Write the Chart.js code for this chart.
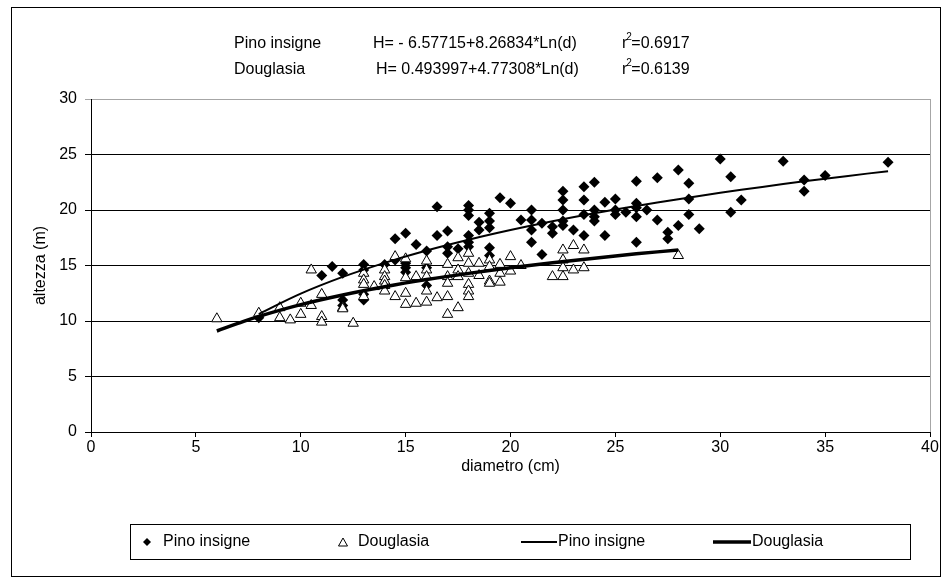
<!DOCTYPE html>
<html>
<head>
<meta charset="utf-8">
<script src="https://cdn.jsdelivr.net/npm/chart.js@4.4.0/dist/chart.umd.min.js"></script>
<style>
  html, body { margin: 0; padding: 0; background: #fff; }
  #wrap { width: 950px; height: 583px; }
</style>
</head>
<body>
<div id="wrap"><canvas id="grafico" width="950" height="583"></canvas></div>
<script>
// Pino insigne: diametro (cm) / altezza (m)
var pinoX = [8, 11, 11.5, 12, 12, 12, 13, 13, 13, 13, 14, 14.5, 14.5, 15, 15, 15, 15, 15.5, 16, 16, 16,
  16.5, 16.5, 17, 17, 17, 17.5, 18, 18, 18, 18, 18, 18, 18.5, 18.5, 19, 19, 19, 19, 19, 19.5, 20, 20.5,
  21, 21, 21, 21, 21.5, 21.5, 22, 22, 22.5, 22.5, 22.5, 22.5, 22.5, 23, 23.5, 23.5, 23.5, 23.5,
  24, 24, 24, 24, 24.5, 24.5, 25, 25, 25, 25.5, 26, 26, 26, 26, 26, 26.5, 27, 27, 27.5, 27.5,
  28, 28, 28.5, 28.5, 28.5, 29, 30, 30.5, 30.5, 31, 33, 34, 34, 35, 38];
var pinoY = [10.3, 14.1, 14.9, 14.3, 11.9, 11.4, 15.1, 14.6, 12.4, 11.9, 15.1, 17.4, 15.5, 17.9, 15.2, 14.8, 14.4, 16.9, 16.3, 14.8, 13.2,
  20.3, 17.7, 18.1, 16.7, 16.1, 16.5, 20.4, 20.0, 19.5, 17.7, 17.1, 16.7, 18.9, 18.2, 19.7, 19.0, 18.4, 16.6, 15.9, 21.1, 20.6, 19.1,
  20.0, 19.1, 18.2, 17.1, 18.8, 16.0, 18.5, 17.9, 21.7, 20.9, 20.0, 19.0, 18.6, 18.2, 22.1, 20.9, 19.6, 17.7,
  22.5, 20.0, 19.4, 19.0, 20.7, 17.7, 21.0, 20.0, 19.6, 19.8, 22.6, 20.6, 20.2, 19.4, 17.1, 20.0, 22.9, 19.1, 18.0, 17.4,
  23.6, 18.6, 22.4, 21.0, 19.6, 18.3, 24.6, 23.0, 19.8, 20.9, 24.4, 22.7, 21.7, 23.1, 24.3];

// Douglasia
var dougX = [6, 8, 9, 9, 9.5, 10, 10, 10.5, 10.5, 11, 11, 11, 12, 12, 12.5, 13, 13, 13, 13, 13.5,
  14, 14, 14, 14, 14, 14.5, 14.5, 15, 15, 15, 15, 15.5, 15.5, 16, 16, 16, 16, 16, 16.5,
  17, 17, 17, 17, 17, 17.5, 17.5, 17.5, 17.5, 18, 18, 18, 18, 18, 18, 18.5, 18.5,
  19, 19, 19, 19, 19.5, 19.5, 19.5, 20, 20, 20.5, 22, 22.5, 22.5, 22.5, 22.5, 23, 23, 23.5, 23.5, 28];
var dougY = [10.2, 10.7, 11.2, 10.3, 10.1, 11.6, 10.6, 11.4, 14.6, 12.4, 10.4, 9.9, 11.2, 11.1, 9.8, 14.3, 13.7, 13.3, 12.2, 13.1,
  14.6, 14.0, 13.6, 13.2, 12.7, 15.8, 12.2, 15.6, 13.9, 12.5, 11.5, 14.0, 11.6, 15.4, 14.6, 14.0, 12.7, 11.7, 12.1,
  15.1, 14.0, 13.4, 12.2, 10.6, 15.7, 14.6, 14.0, 11.2, 16.1, 15.2, 14.3, 13.3, 12.7, 12.2, 15.2, 14.1,
  15.5, 14.9, 13.6, 13.4, 15.1, 14.3, 13.5, 15.8, 14.5, 15.0, 14.0, 16.4, 15.5, 14.8, 14.0, 16.8, 14.6, 16.4, 14.8, 15.9];

// linee di tendenza
var trendPinoX = [8, 10, 12, 14, 16, 18, 20, 22, 24, 26, 28, 30, 32, 34, 36, 38];
var trendPinoY = [10.62, 12.46, 13.97, 15.24, 16.35, 17.32, 18.19, 18.98, 19.70, 20.36, 20.97, 21.55, 22.08, 22.58, 23.05, 23.50];
var trendDougX = [6, 7, 8, 10, 12, 14, 16, 18, 20, 22, 24, 26, 28];
var trendDougY = [9.1, 9.78, 10.42, 11.48, 12.35, 13.09, 13.73, 14.29, 14.79, 15.25, 15.66, 16.05, 16.40];

var equazioni = [
  ['Pino insigne', 'H= - 6.57715+8.26834*Ln(d)', '0.6917'],
  ['Douglasia', 'H= 0.493997+4.77308*Ln(d)', '0.6139']
];

function punti(xs, ys) {
  var out = [];
  for (var i = 0; i < xs.length; i++) out.push({x: xs[i], y: ys[i]});
  return out;
}

var FONT = 'Liberation Sans, Arial, sans-serif';
var FS = 16;

var cornice = {
  id: 'cornice',
  afterDraw: function(chart) {
    var ctx = chart.ctx;
    var ca = chart.chartArea;
    ctx.save();
    // bordo destro area del grafico
    ctx.strokeStyle = '#a6a6a6';
    ctx.lineWidth = 1;
    ctx.beginPath();
    ctx.moveTo(ca.right + 0.5, ca.top);
    ctx.lineTo(ca.right + 0.5, ca.bottom);
    ctx.stroke();

    // cornice esterna
    ctx.strokeStyle = '#000';
    ctx.strokeRect(11.5, 7.5, 929, 569);

    // equazioni in alto
    ctx.fillStyle = '#000';
    ctx.textBaseline = 'middle';
    ctx.textAlign = 'left';
    var righe = [44, 70];
    for (var i = 0; i < equazioni.length; i++) {
      var y = righe[i];
      ctx.font = FS + 'px ' + FONT;
      ctx.fillText(equazioni[i][0], 234, y);
      ctx.fillText(equazioni[i][1], i === 0 ? 373 : 376, y);
      ctx.fillText('r', 622, y);
      var wr = ctx.measureText('r').width;
      ctx.font = '10px ' + FONT;
      ctx.fillText('2', 622 + wr - 1, y - 7);
      ctx.font = FS + 'px ' + FONT;
      ctx.fillText('=' + equazioni[i][2], 622 + wr + 4, y);
    }

    // legenda
    ctx.strokeStyle = '#000';
    ctx.lineWidth = 1;
    ctx.strokeRect(130.5, 524.5, 780, 35);
    var ly = 542;
    ctx.font = FS + 'px ' + FONT;
    // diamante
    ctx.fillStyle = '#000';
    ctx.beginPath();
    ctx.moveTo(147, ly - 4); ctx.lineTo(151, ly); ctx.lineTo(147, ly + 4); ctx.lineTo(143, ly);
    ctx.closePath();
    ctx.fill();
    ctx.fillText('Pino insigne', 163, ly);
    // triangolo
    ctx.fillStyle = '#fff';
    ctx.beginPath();
    ctx.moveTo(343, ly - 4); ctx.lineTo(347.5, ly + 4); ctx.lineTo(338.5, ly + 4);
    ctx.closePath();
    ctx.fill();
    ctx.stroke();
    ctx.fillStyle = '#000';
    ctx.fillText('Douglasia', 358, ly);
    // linee
    ctx.lineWidth = 2;
    ctx.beginPath(); ctx.moveTo(521, ly); ctx.lineTo(557, ly); ctx.stroke();
    ctx.fillText('Pino insigne', 558, ly);
    ctx.lineWidth = 3.5;
    ctx.beginPath(); ctx.moveTo(713, ly); ctx.lineTo(751, ly); ctx.stroke();
    ctx.fillText('Douglasia', 752, ly);
    ctx.restore();
  }
};

var ctx = document.getElementById('grafico');
var grafico = new Chart(ctx, {
  type: 'scatter',
  data: {
    datasets: [
      {
        label: 'Pino insigne',
        data: punti(pinoX, pinoY),
        pointStyle: 'rectRot',
        pointRadius: 5.5,
        backgroundColor: '#000',
        borderColor: '#000',
        borderWidth: 0,
        order: 3
      },
      {
        label: 'Douglasia',
        data: punti(dougX, dougY),
        pointStyle: 'triangle',
        pointRadius: 6,
        backgroundColor: '#fff',
        borderColor: '#000',
        borderWidth: 1,
        order: 2
      },
      {
        label: 'Pino insigne',
        data: punti(trendPinoX, trendPinoY),
        showLine: true,
        pointRadius: 0,
        borderColor: '#000',
        borderWidth: 2,
        tension: 0.4,
        order: 1
      },
      {
        label: 'Douglasia',
        data: punti(trendDougX, trendDougY),
        showLine: true,
        pointRadius: 0,
        borderColor: '#000',
        borderWidth: 3.5,
        tension: 0.4,
        order: 0
      }
    ]
  },
  options: {
    responsive: false,
    animation: false,
    events: [],
    layout: { padding: { left: 12, right: 20, top: 99, bottom: 101 } },
    plugins: { legend: { display: false }, tooltip: { enabled: false } },
    scales: {
      x: {
        type: 'linear', min: 0, max: 40,
        ticks: { stepSize: 5, color: '#000', font: { family: FONT, size: FS }, padding: 1 },
        grid: { drawOnChartArea: false, drawTicks: true, tickLength: 5, color: '#000' },
        border: { color: '#000' },
        title: { display: true, text: 'diametro (cm)', color: '#000', font: { family: FONT, size: FS }, padding: { top: 0, bottom: 6 } },
        afterFit: function(s) { s.height = 50; }
      },
      y: {
        min: 0, max: 30,
        ticks: { stepSize: 5, color: '#000', font: { family: FONT, size: FS }, padding: 8 },
        grid: {
          tickLength: 6,
          color: function(c) { return c.tick && c.tick.value === 30 ? '#a6a6a6' : '#000'; }
        },
        border: { color: '#000' },
        title: { display: true, text: 'altezza (m)', color: '#000', font: { family: FONT, size: FS }, padding: { top: 19, bottom: 0 } },
        afterFit: function(s) { s.width = 79; }
      }
    }
  },
  plugins: [cornice]
});
</script>
</body>
</html>
